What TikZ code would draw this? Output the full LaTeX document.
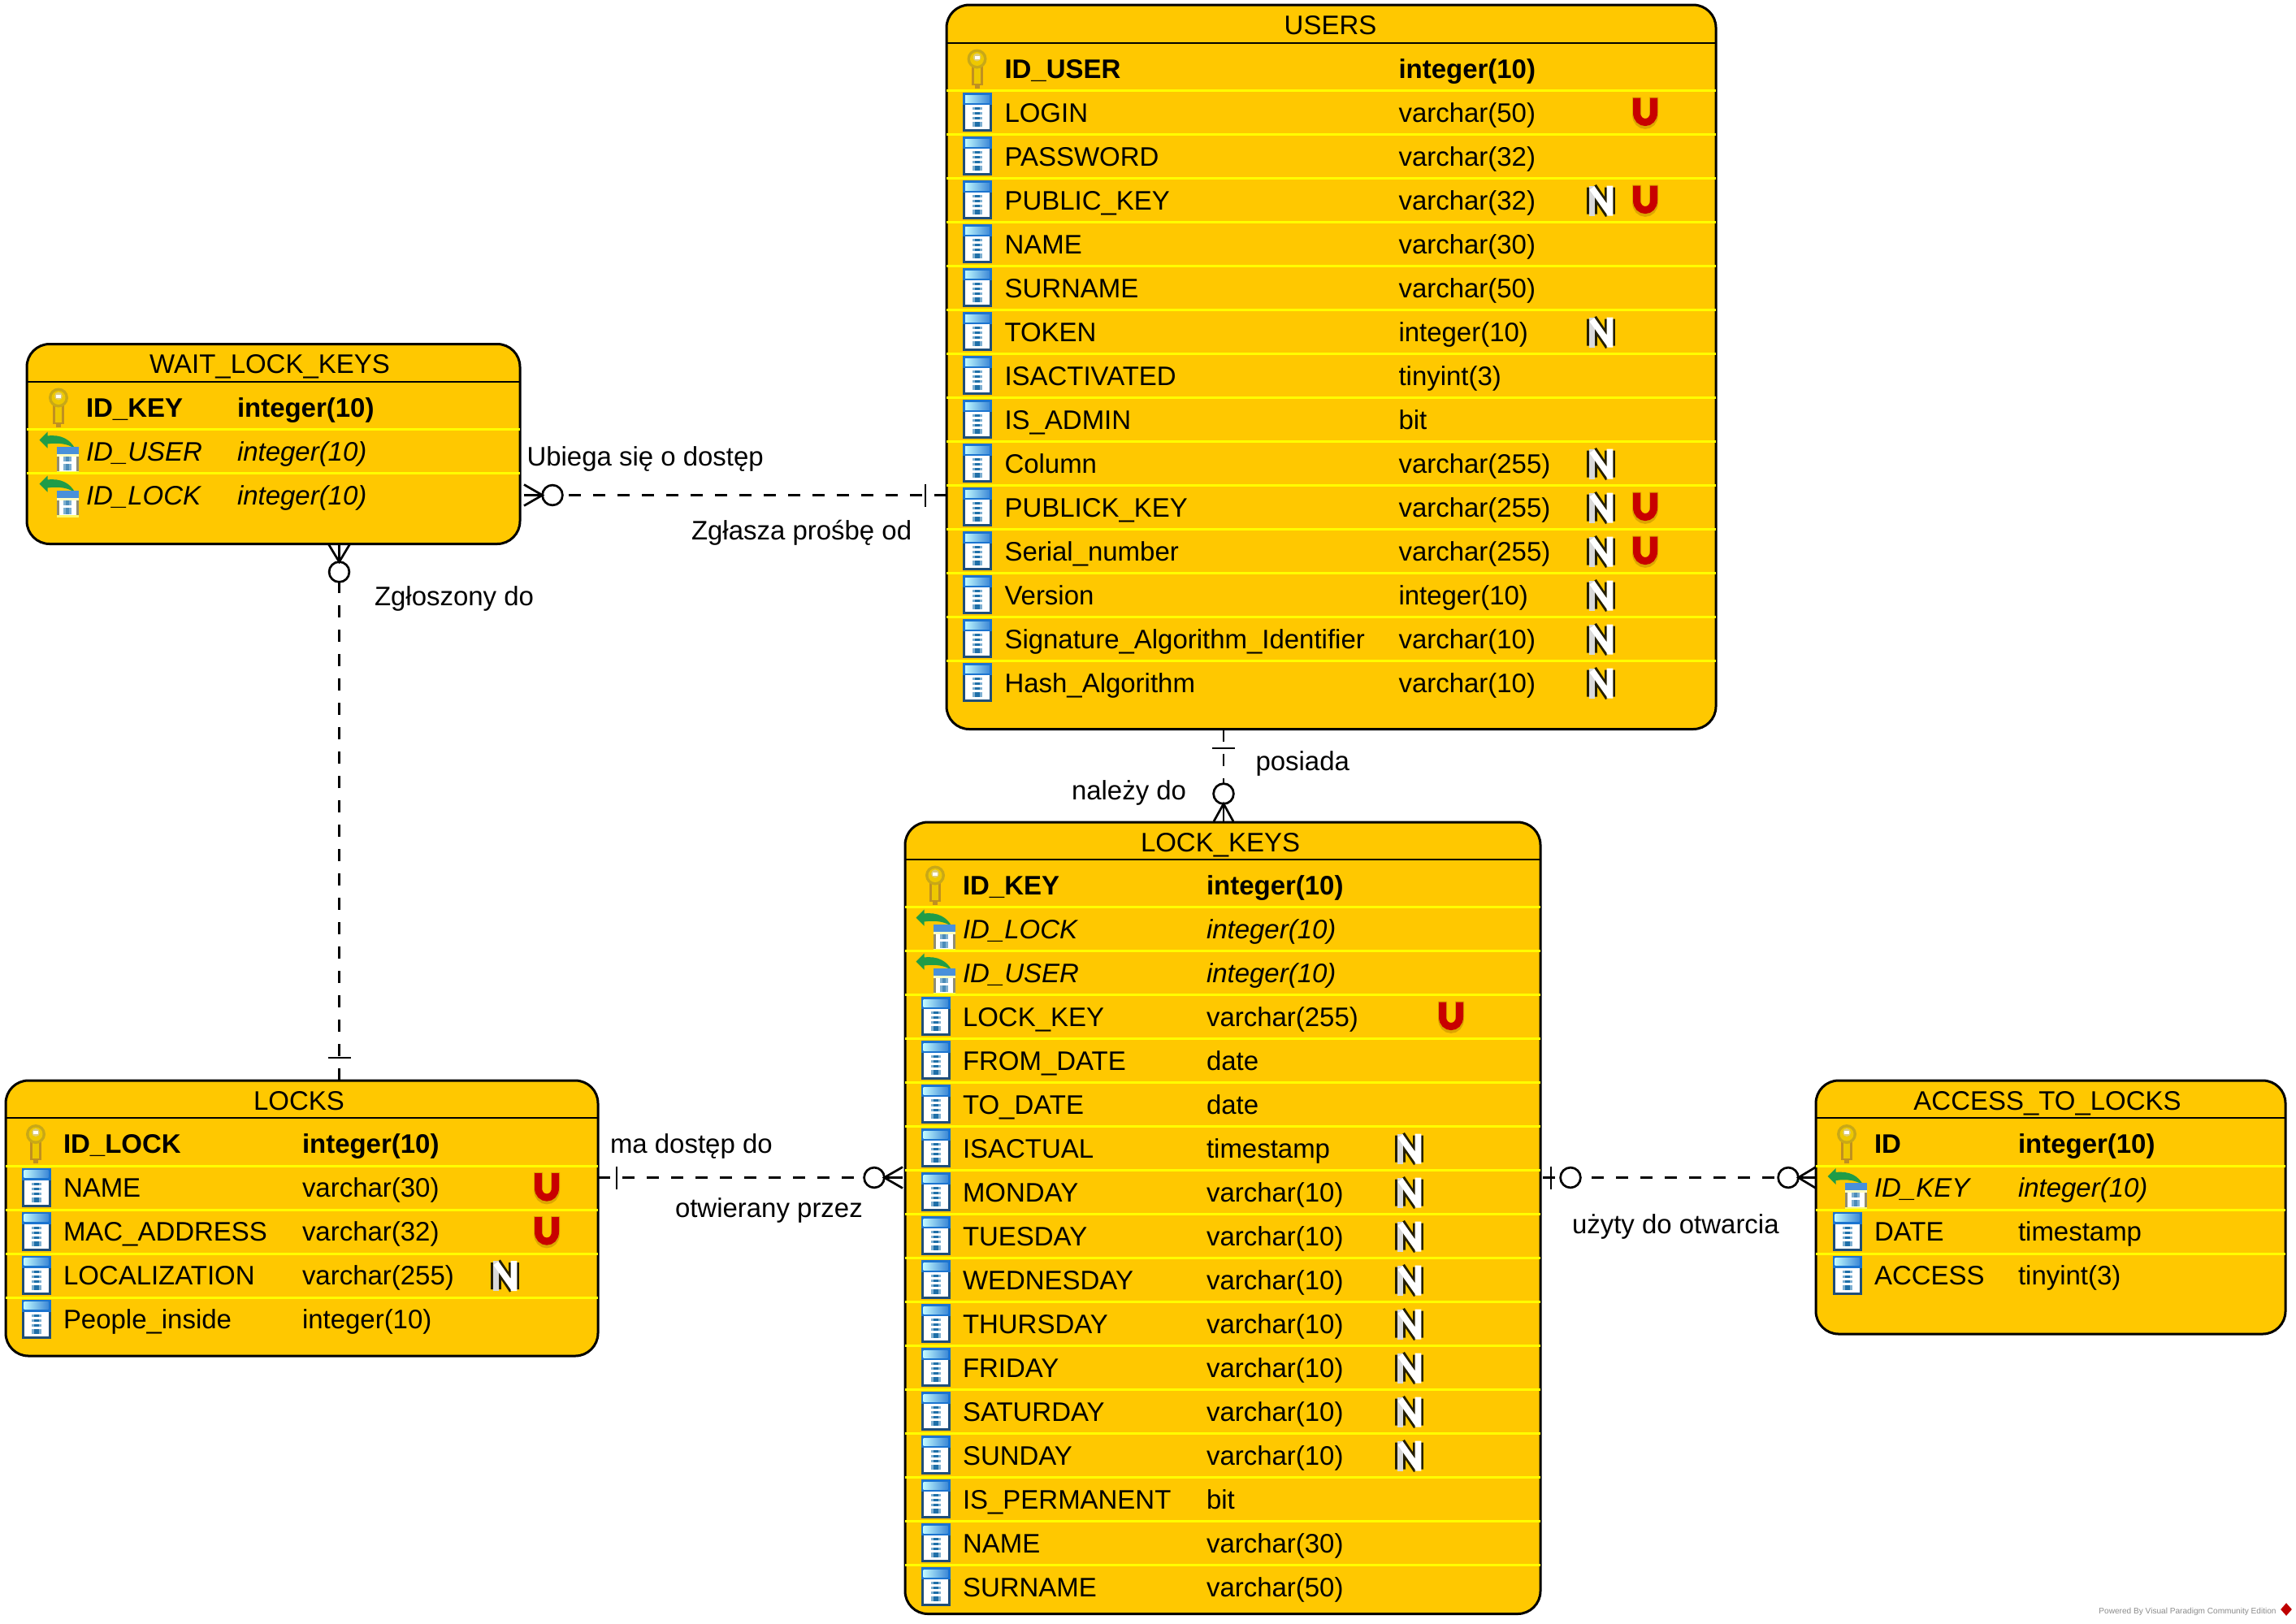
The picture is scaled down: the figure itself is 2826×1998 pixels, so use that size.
\documentclass[tikz,border=0pt]{standalone}
\usepackage{fontspec}
\setmainfont{Liberation Sans}
\usetikzlibrary{shapes.geometric}
\definecolor{boxfill}{HTML}{FFC800}
\definecolor{sepyellow}{HTML}{FFFF00}
\definecolor{colblue}{HTML}{1B74D0}
\definecolor{coldark}{HTML}{1F4E79}
\definecolor{barblue}{HTML}{1F6FA8}
\definecolor{barlight}{HTML}{7FB0D2}
\definecolor{keyedge}{HTML}{C8A818}
\definecolor{keygold}{HTML}{EEC800}
\definecolor{keydark}{HTML}{C09020}
\definecolor{fkgreen}{HTML}{1F9C48}
\definecolor{urred}{HTML}{C80000}
\definecolor{ushadow}{HTML}{DCA600}
\definecolor{noutline}{HTML}{241E00}
\newcommand\rowfont{\fontsize{16.48}{20}\selectfont}
\tikzset{
  tablebox/.style={draw=black,fill=boxfill,line width=1.5pt,rounded corners=14pt,inner sep=0pt,outer sep=0pt},
  headline/.style={draw=black,line width=1pt},
  rowsep/.style={draw=sepyellow,line width=1.5pt},
  rowtext/.style={anchor=base west,inner sep=0pt,outer sep=0pt,text=black},
  titletext/.style={anchor=base,inner sep=0pt,outer sep=0pt,font=\rowfont},
  rellabel/.style={anchor=base west,inner sep=0pt,outer sep=0pt,font=\rowfont},
  relline/.style={draw=black,line width=1.35pt,dash pattern=on 7.5pt off 7.5pt},
  tickline/.style={draw=black,line width=1.35pt},
  optcirc/.style={circle,draw=black,fill=white,line width=1.35pt,minimum size=12.4pt,inner sep=0pt,outer sep=0pt},
  colicon/.pic={
    \fill[coldark] (0,0) rectangle (36,48);
    \fill[colblue] (0,0) rectangle (36,15);
    \shade[left color=blue!10!cyan!25!white,right color=colblue!85!white] (3,3) rectangle (33,12);
    \fill[white] (3,15) rectangle (33,45);
    \foreach \yy in {18,24,30} {
      \fill[barlight] (12,\yy) rectangle (24,\yy+3);
      \fill[barblue] (15,\yy) rectangle (21,\yy+3);
    }
    \fill[barlight] (12,36) rectangle (24,42);
    \fill[barblue] (15,36) rectangle (21,42);
  },
  keyicon/.pic={
    \fill[keydark] (-7,18) rectangle (7,44);
    \fill[keydark] (-3,44) rectangle (3,48);
    \fill[keygold] (-4,20) rectangle (4,42);
    \fill[keyedge] (0,12) circle[radius=12];
    \fill[keygold] (0,12) circle[radius=8.5];
    \fill[keyedge!60!white] (0,10) circle[radius=5];
    \fill[white] (-3,8) rectangle (3,12);
  },
  fkicon/.pic={
    \fill[fkgreen] (0,13) -- (10,3) -- (10,8) .. controls (26,6) and (38,12) .. (44,24) .. controls (36,18) and (24,16) .. (10,18) -- (10,23) -- cycle;
    \fill[white] (21,21) rectangle (48,54);
    \fill[gray!80!olive] (21,30) rectangle (24,54);
    \fill[gray!80!olive] (45,30) rectangle (48,54);
    \fill[colblue!80!white] (21,21) rectangle (48,30);
    \fill[yellow!25!white] (21,30) rectangle (48,33);
    \fill[yellow!60!white] (21,51) rectangle (48,54);
    \fill[barlight] (29,33) rectangle (39,39);
    \fill[barlight] (29,42) rectangle (39,50);
    \fill[barblue!80!white] (32,33) rectangle (36,39);
    \fill[barblue!80!white] (32,42) rectangle (36,50);
  },
  nicon/.pic={
    \draw[noutline,line width=6.4pt,line join=round] (6.5,11) -- (6.5,44) (28.5,11) -- (28.5,44) (6.5,11) -- (28.5,44);
    \draw[gray!30!white,line width=3.8pt] (6.5,9) -- (6.5,46);
    \draw[white,line width=3.8pt] (6.5,12) -- (28.5,43) (28.5,9) -- (28.5,46);
  },
  uicon/.pic={
    \draw[ushadow,line width=5.5pt] (4.5,8) -- (4.5,29) .. controls (4.5,46) and (25.5,46) .. (25.5,29) -- (25.5,8);
    \draw[urred,line width=4.5pt] (4.5,9) -- (4.5,27) .. controls (4.5,43) and (25.5,43) .. (25.5,27) -- (25.5,9);
  },
}
\newcounter{rw}
% table box: name, x0, y0, x1, y1, header y, title, title x
\newcommand\ertable[8]{%
  \node[tablebox,minimum width=#4*0.5pt-#2*0.5pt,minimum height=#5*0.5pt-#3*0.5pt] (#1) at ({(#2+#4)/2},{(#3+#5)/2}) {};
  \draw[headline] (#2,#6) -- (#4,#6);
  \node[titletext] (#1title) at (#8,#3+36.2) {#7};
  \def\tl{#2}\def\tr{#4}%
}
% text x, type x, N x, U x, first row top
\newcommand\startrows[5]{\def\tx{#1}\def\ty{#2}\def\tn{#3}\def\tu{#4}\def\rtop{#5}\def\isfirst{1}}
\newcommand\rowcommon[4]{%
  \ifnum\isfirst=0 \draw[rowsep] (\tl,\rtop) -- (\tr,\rtop);\fi
  \def\isfirst{0}%
  \stepcounter{rw}%
  \node[rowtext,font=\rowfont#1] (rowname\arabic{rw}) at (\tx,\rtop+38.9) {#2};
  \node[rowtext,font=\rowfont#1] (rowtype\arabic{rw}) at (\ty,\rtop+38.9) {#3};
  #4
  \pgfmathsetmacro\rtop{\rtop+54}%
}
\newcommand\pkrow[2]{\pic at (\tx-34,\rtop+3) {keyicon}; \rowcommon{\bfseries}{#1}{#2}{}}
\newcommand\fkrow[2]{\pic at (\tx-57.5,\rtop) {fkicon}; \rowcommon{\itshape}{#1}{#2}{}}
\newcommand\colrow[3]{\pic at (\tx-51.5,\rtop+2.6) {colicon}; \rowcommon{}{#1}{#2}{#3}}
\newcommand\nf{\pic at (\tn,\rtop) {nicon};}
\newcommand\uf{\pic at (\tu,\rtop) {uicon};}
\begin{document}
\begin{tikzpicture}[x=0.5pt,y=-0.5pt]
\useasboundingbox (0,0) rectangle (2826,1998);
\fill[white] (0,0) rectangle (2826,1998);

% USERS
\ertable{users}{1165}{6}{2112}{897.5}{52.5}{USERS}{1637.5}
\startrows{1236.5}{1721.5}{1953}{2010}{57.5}
\pkrow{ID\_USER}{integer(10)}
\colrow{LOGIN}{varchar(50)}{\uf}
\colrow{PASSWORD}{varchar(32)}{}
\colrow{PUBLIC\_KEY}{varchar(32)}{\nf\uf}
\colrow{NAME}{varchar(30)}{}
\colrow{SURNAME}{varchar(50)}{}
\colrow{TOKEN}{integer(10)}{\nf}
\colrow{ISACTIVATED}{tinyint(3)}{}
\colrow{IS\_ADMIN}{bit}{}
\colrow{Column}{varchar(255)}{\nf}
\colrow{PUBLICK\_KEY}{varchar(255)}{\nf\uf}
\colrow{Serial\_number}{varchar(255)}{\nf\uf}
\colrow{Version}{integer(10)}{\nf}
\colrow{Signature\_Algorithm\_Identifier}{varchar(10)}{\nf}
\colrow{Hash\_Algorithm}{varchar(10)}{\nf}

% WAIT_LOCK_KEYS
\ertable{wait}{33}{423.5}{640}{669.5}{469.5}{WAIT\_LOCK\_KEYS}{332}
\startrows{106}{292}{0}{0}{474.5}
\pkrow{ID\_KEY}{integer(10)}
\fkrow{ID\_USER}{integer(10)}
\fkrow{ID\_LOCK}{integer(10)}

% LOCK_KEYS
\ertable{lockkeys}{1114}{1012}{1896}{1986.5}{1057.5}{LOCK\_KEYS}{1502}
\startrows{1185}{1485}{1717}{1771}{1062.5}
\pkrow{ID\_KEY}{integer(10)}
\fkrow{ID\_LOCK}{integer(10)}
\fkrow{ID\_USER}{integer(10)}
\colrow{LOCK\_KEY}{varchar(255)}{\uf}
\colrow{FROM\_DATE}{date}{}
\colrow{TO\_DATE}{date}{}
\colrow{ISACTUAL}{timestamp}{\nf}
\colrow{MONDAY}{varchar(10)}{\nf}
\colrow{TUESDAY}{varchar(10)}{\nf}
\colrow{WEDNESDAY}{varchar(10)}{\nf}
\colrow{THURSDAY}{varchar(10)}{\nf}
\colrow{FRIDAY}{varchar(10)}{\nf}
\colrow{SATURDAY}{varchar(10)}{\nf}
\colrow{SUNDAY}{varchar(10)}{\nf}
\colrow{IS\_PERMANENT}{bit}{}
\colrow{NAME}{varchar(30)}{}
\colrow{SURNAME}{varchar(50)}{}

% LOCKS
\ertable{locks}{7}{1330}{736}{1669}{1376}{LOCKS}{368}
\startrows{78}{372}{604}{658}{1381}
\pkrow{ID\_LOCK}{integer(10)}
\colrow{NAME}{varchar(30)}{\uf}
\colrow{MAC\_ADDRESS}{varchar(32)}{\uf}
\colrow{LOCALIZATION}{varchar(255)}{\nf}
\colrow{People\_inside}{integer(10)}{}

% ACCESS_TO_LOCKS
\ertable{access}{2235}{1330}{2813}{1642}{1376}{ACCESS\_TO\_LOCKS}{2520}
\startrows{2307}{2484}{0}{0}{1381}
\pkrow{ID}{integer(10)}
\fkrow{ID\_KEY}{integer(10)}
\colrow{DATE}{timestamp}{}
\colrow{ACCESS}{tinyint(3)}{}

% WAIT -- USERS
\coordinate (wuEnd) at (645,609.5);
\coordinate (wuTick) at (1139,609.5);
\coordinate (wuCpos) at (680,609.5);
\draw[relline] (users.west |- wuCpos) -- (wuCpos);
\node[optcirc] (wuC) at (wuCpos) {};
\draw[tickline] ([yshift=7pt]wuTick) -- ([yshift=-7pt]wuTick);
\draw[tickline] ([yshift=6.5pt]wuEnd) -- (wuC.west) -- ([yshift=-6.5pt]wuEnd);
\draw[tickline] (wuC.west) -- (wuEnd);

% WAIT -- LOCKS
\coordinate (wlEnd) at (417.5,670);
\coordinate (wlTick) at (417.5,1302);
\coordinate (wlCpos) at (417.5,704);
\draw[relline] (wlCpos |- locks.north) -- (wlCpos);
\node[optcirc] (wlC) at (wlCpos) {};
\draw[tickline] ([xshift=-7pt]wlTick) -- ([xshift=7pt]wlTick);
\draw[tickline] ([xshift=-6.5pt]wlEnd) -- (wlC.north) -- ([xshift=6.5pt]wlEnd);
\draw[tickline] (wlC.north) -- (wlEnd);

% USERS -- LOCK_KEYS
\coordinate (ulEnd) at (1506,1011);
\coordinate (ulTick) at (1506,921);
\coordinate (ulCpos) at (1506,977);
\draw[relline] (ulCpos |- users.south) -- (ulCpos);
\node[optcirc] (ulC) at (ulCpos) {};
\draw[tickline] ([xshift=-7pt]ulTick) -- ([xshift=7pt]ulTick);
\draw[tickline] ([xshift=-6pt]ulEnd) -- (ulC.south) -- ([xshift=6pt]ulEnd);
\draw[tickline] (ulC.south) -- (ulEnd);

% LOCKS -- LOCK_KEYS
\coordinate (mdEnd) at (1111,1449.5);
\coordinate (mdTick) at (759,1449.5);
\coordinate (mdCpos) at (1076,1449.5);
\draw[relline] (locks.east |- mdCpos) -- (mdCpos);
\node[optcirc] (mdC) at (mdCpos) {};
\draw[tickline] ([yshift=7pt]mdTick) -- ([yshift=-7pt]mdTick);
\draw[tickline] ([yshift=6.5pt]mdEnd) -- (mdC.east) -- ([yshift=-6.5pt]mdEnd);
\draw[tickline] (mdC.east) -- (mdEnd);

% LOCK_KEYS -- ACCESS_TO_LOCKS
\coordinate (acEnd) at (2235,1449.5);
\coordinate (acTick) at (1909,1449.5);
\coordinate (acOneCpos) at (1933,1449.5);
\coordinate (acManyCpos) at (2201,1449.5);
\draw[relline,dash phase=13.5pt] (lockkeys.east |- acManyCpos) -- (acManyCpos);
\node[optcirc] (acOneC) at (acOneCpos) {};
\node[optcirc] (acManyC) at (acManyCpos) {};
\draw[tickline] ([yshift=7pt]acTick) -- ([yshift=-7pt]acTick);
\draw[tickline] ([yshift=6.5pt]acEnd) -- (acManyC.east) -- ([yshift=-6.5pt]acEnd);
\draw[tickline] (acManyC.east) -- (acEnd);

% relationship labels
\node[rellabel] (lab1) at (648.5,573) {Ubiega się o dostęp};
\node[rellabel] (lab2) at (851,664) {Zgłasza prośbę od};
\node[rellabel] (lab3) at (461,745) {Zgłoszony do};
\node[rellabel] (lab4) at (1545.5,948) {posiada};
\node[rellabel] (lab5) at (1319,984) {należy do};
\node[rellabel] (lab6) at (751,1419) {ma dostęp do};
\node[rellabel] (lab7) at (831,1498) {otwierany przez};
\node[rellabel] (lab8) at (1935,1518) {użyty do otwarcia};

% footer
\node[anchor=base east,inner sep=0pt,text=gray!90!white,font=\fontsize{5.05}{6}\selectfont] (footer) at (2802,1986) {Powered By Visual Paradigm Community Edition};
\node[diamond,fill=red!75!black,inner sep=0pt,minimum width=7pt,minimum height=8pt] (vplogo) at (2814,1981) {};
\end{tikzpicture}
\end{document}
